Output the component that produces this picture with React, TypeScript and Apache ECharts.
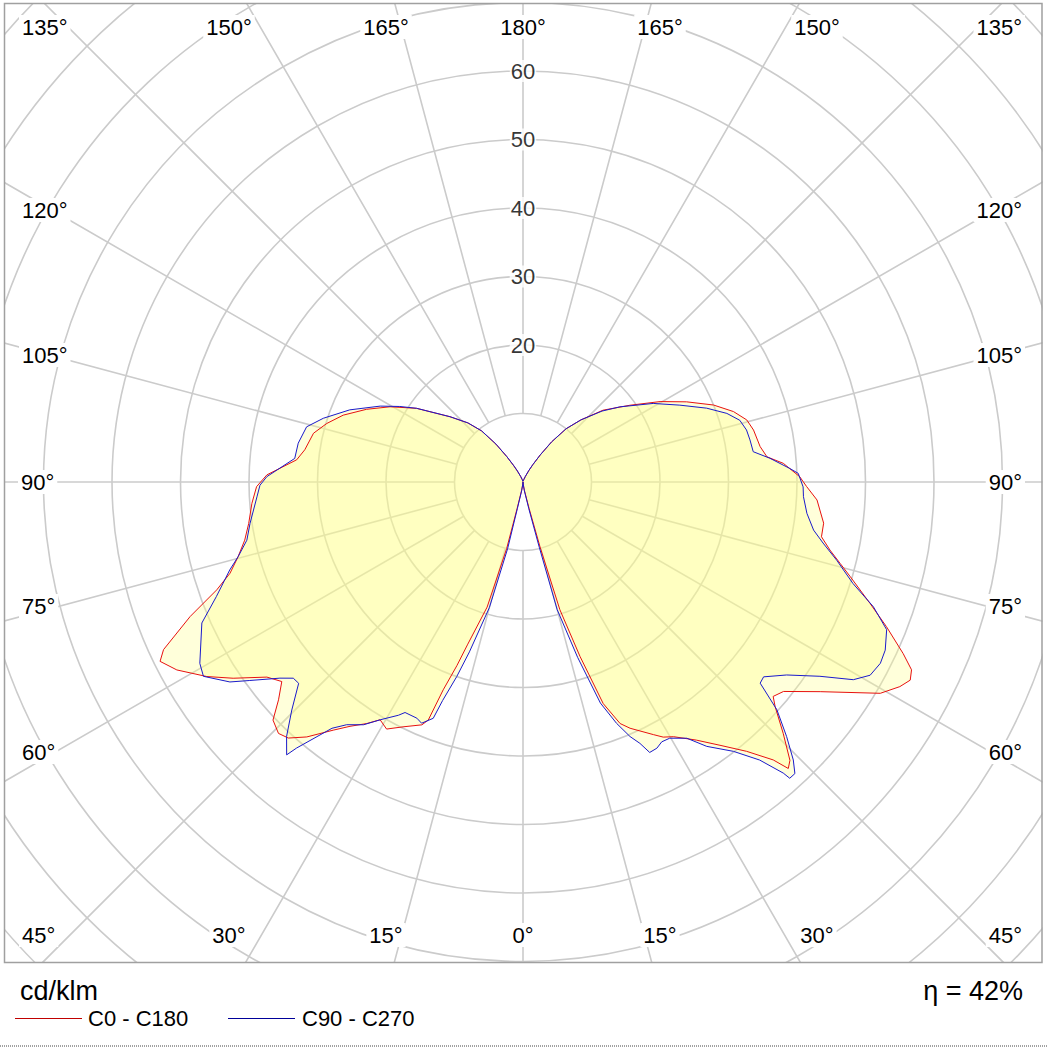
import React, { useEffect, useRef } from "react";
import * as echarts from "echarts";

// ---- data: [gamma (deg), intensity (cd/klm)] ----
const C180_LEFT: [number, number][] = [
  [0, 0], [5, 0.3], [9, 1.2], [12.5, 4.0], [13.8, 10.0], [16.0, 19.0], [18.8, 25.0], [19.8, 28.5],
  [21.0, 32.5], [21.7, 37.4], [22.6, 38.4], [26.1, 39.8], [28.9, 41.2], [31.0, 40.5], [32.9, 42.0],
  [35.3, 43.7], [37.4, 45.6], [40.3, 48.8], [42.5, 50.7], [44.2, 51.2], [46.4, 50.4], [48.3, 47.8],
  [50.4, 45.7], [52.7, 47.0], [55.9, 51.1], [58.4, 54.2], [61.5, 57.5], [63.7, 59.1], [65.0, 57.9],
  [68.0, 52.4], [70.6, 47.4], [72.7, 44.8], [75.3, 43.0], [78.2, 41.5], [81.4, 40.5], [85.5, 39.7],
  [89.0, 38.9], [91.6, 37.4], [95.6, 33.2], [98.4, 32.2], [103.1, 31.4], [106.6, 29.9], [110.4, 28.0],
  [114.9, 25.2], [119.5, 22.3], [124.7, 18.9], [131.8, 14.3], [137.0, 11.8], [141.0, 9.6], [144.5, 6.8],
  [147.5, 4.4], [150.5, 2.7], [153.0, 1.8], [157.0, 0.9], [163.0, 0.35], [170, 0.1], [180, 0],
];
const C0_RIGHT: [number, number][] = [
  [0, 0], [5, 0.3], [9, 1.2], [13.0, 4.0], [14.7, 9.8], [16.1, 19.4], [18.1, 26.8], [19.9, 34.4],
  [21.9, 38.0], [23.5, 39.2], [27.3, 41.5], [28.8, 42.5], [30.6, 43.2], [33.9, 45.4], [36.8, 48.0],
  [39.7, 51.1], [42.0, 54.6], [42.8, 57.0], [43.8, 56.3], [46.0, 52.8], [48.3, 49.3], [49.4, 48.1],
  [51.2, 48.8], [54.8, 53.1], [59.4, 60.6], [61.5, 62.6], [62.9, 63.5], [64.2, 63.0], [65.7, 60.9],
  [68.3, 57.1], [70.7, 53.7], [73.9, 49.7], [75.6, 47.8], [77.5, 45.9], [79.6, 44.3], [82.2, 44.3],
  [86.5, 43.0], [89.1, 41.4], [91.1, 40.4], [94.1, 38.1], [95.9, 35.8], [98.5, 35.0], [102.7, 34.5],
  [105.5, 33.9], [108.5, 32.4], [112.0, 30.0], [116.1, 26.6], [120.4, 23.2], [125.7, 19.2],
  [131.9, 15.7], [137.0, 12.4], [141.0, 10.0], [144.5, 7.2], [147.5, 4.7], [150.5, 2.9], [153.0, 1.9],
  [157.0, 0.9], [163.0, 0.35], [170, 0.1], [180, 0],
];
const C270_LEFT: [number, number][] = [
  [0, 0], [5, 0.3], [9, 1.3], [12.0, 4.0], [13.0, 10.0], [15.0, 19.0], [17.5, 26.0], [18.8, 30.0],
  [20.2, 34.0], [20.8, 36.9], [22.8, 38.2], [24.2, 37.8], [27.1, 37.8], [28.1, 38.6], [31.0, 40.5],
  [33.3, 42.4], [36.0, 43.8], [37.8, 45.5], [40.4, 51.0], [40.9, 52.7], [42.9, 50.7], [45.4, 47.4],
  [48.1, 44.0], [49.5, 44.1], [51.1, 45.6], [54.0, 49.3], [55.7, 51.8], [58.7, 54.6], [60.7, 54.1],
  [66.3, 51.2], [69.5, 47.8], [73.3, 44.7], [75.3, 43.0], [78.1, 41.2], [81.4, 40.3], [86.8, 38.9],
  [89.3, 38.4], [91.2, 37.4], [95.9, 33.5], [99.8, 33.3], [104.3, 32.6], [107.7, 30.6], [112.6, 27.4],
  [118.0, 23.6], [121.5, 21.1], [124.7, 18.9], [131.8, 14.3], [137.0, 11.8], [141.0, 9.6], [144.5, 6.8],
  [147.5, 4.4], [150.5, 2.7], [153.0, 1.8], [157.0, 0.9], [163.0, 0.35], [170, 0.1], [180, 0],
];
const C90_RIGHT: [number, number][] = [
  [0, 0], [5, 0.3], [9, 1.3], [12.3, 4.0], [14.0, 9.8], [15.0, 19.3], [17.3, 26.8], [19.3, 34.2],
  [21.2, 37.8], [22.8, 40.3], [24.1, 41.8], [25.1, 43.6], [26.7, 43.5], [28.1, 43.0], [29.8, 43.1],
  [32.6, 44.4], [34.8, 47.0], [38.0, 49.9], [40.4, 53.3], [41.8, 57.0], [42.0, 58.2], [43.0, 58.2],
  [44.2, 56.6], [46.0, 53.5], [48.1, 49.8], [49.7, 45.4], [51.0, 45.2], [53.8, 47.7], [56.8, 51.8],
  [59.1, 56.2], [60.9, 58.0], [63.1, 58.5], [65.1, 58.3], [67.9, 57.3], [70.4, 54.3], [72.9, 50.4],
  [76.0, 47.2], [78.5, 44.7], [80.6, 43.0], [83.7, 41.7], [87.0, 41.0], [89.0, 40.9], [91.8, 40.2],
  [92.9, 39.0], [95.5, 36.2], [97.5, 33.9], [100.5, 33.7], [103.1, 33.5], [105.9, 32.9], [108.6, 31.4],
  [111.9, 28.9], [116.1, 25.5], [121.1, 22.2], [127.8, 17.9], [131.9, 15.5], [137.0, 12.4],
  [141.0, 10.0], [144.5, 7.2], [147.5, 4.7], [150.5, 2.9], [153.0, 1.9], [157.0, 0.9], [163.0, 0.35],
  [170, 0.1], [180, 0],
];
const RING_LABELS = [20, 30, 40, 50, 60];
const SERIES_NAMES = ["C0 - C180", "C90 - C270"];
const UNIT = "cd/klm";
const EFFICIENCY = "η = 42%";

// ---- layout ----
const CX = 523;
const CY = 482;
const R_MAX = 110;
const PX_PER_UNIT = 6.85;
const FRAME = { x: 4.5, y: 3.5, w: 1037.5, h: 959 };
const FONT = '"Liberation Sans", Arial, Helvetica, sans-serif';

const ANGLE_LABELS: { t: string; x: number; y: number; a: string }[] = [
  { t: "135°", x: 19, y: 27, a: "left" },
  { t: "150°", x: 229, y: 27, a: "center" },
  { t: "165°", x: 386, y: 27, a: "center" },
  { t: "180°", x: 523, y: 27, a: "center" },
  { t: "165°", x: 660, y: 27, a: "center" },
  { t: "150°", x: 817, y: 27, a: "center" },
  { t: "135°", x: 1025, y: 27, a: "right" },
  { t: "120°", x: 19, y: 210, a: "left" },
  { t: "105°", x: 19, y: 355, a: "left" },
  { t: "90°", x: 18, y: 482, a: "left" },
  { t: "75°", x: 19, y: 606, a: "left" },
  { t: "60°", x: 19, y: 752, a: "left" },
  { t: "120°", x: 1025, y: 210, a: "right" },
  { t: "105°", x: 1025, y: 355, a: "right" },
  { t: "90°", x: 1025, y: 482, a: "right" },
  { t: "75°", x: 1025, y: 606, a: "right" },
  { t: "60°", x: 1025, y: 752, a: "right" },
  { t: "45°", x: 19, y: 935, a: "left" },
  { t: "30°", x: 229, y: 935, a: "center" },
  { t: "15°", x: 386, y: 935, a: "center" },
  { t: "0°", x: 523, y: 935, a: "center" },
  { t: "15°", x: 660, y: 935, a: "center" },
  { t: "30°", x: 817, y: 935, a: "center" },
  { t: "45°", x: 1025, y: 935, a: "right" },
];

function loop(left: [number, number][], right: [number, number][]) {
  const a = left.map(([g, v]) => [v, g]);
  const b = [...right].reverse().map(([g, v]) => [v, 360 - g]);
  return a.concat(b);
}

export default function App() {
  const ref = useRef<HTMLDivElement>(null);
  useEffect(() => {
    document.body.style.margin = "0";
    if (!ref.current) return;
    const chart = echarts.init(ref.current, undefined, { renderer: "svg" });
    const outerR = R_MAX * PX_PER_UNIT;
    const innerR = 10 * PX_PER_UNIT;
    const gridColor = "#cbcbcb";
    const gridW = 1.6;
    const loopC0 = loop(C180_LEFT, C0_RIGHT);
    const loopC90 = loop(C270_LEFT, C90_RIGHT);
    const fill = "rgba(255,255,140,0.32)";

    const texts: any[] = ANGLE_LABELS.map((l) => ({
      type: "text",
      z: 110,
      style: {
        text: l.t,
        x: l.x,
        y: l.y,
        font: `22px ${FONT}`,
        fill: "#000",
        align: l.a,
        verticalAlign: "middle",
        backgroundColor: "#fff",
        padding: [1, 3],
      },
    }));

    chart.setOption({
      animation: false,
      backgroundColor: "#fff",
      polar: [
        { center: [CX, CY], radius: [0, outerR] },
        { center: [CX, CY], radius: [innerR, outerR] },
      ],
      angleAxis: [
        {
          polarIndex: 0, type: "value", min: 0, max: 360, interval: 15, startAngle: -90, clockwise: true,
          axisLine: { show: false }, axisTick: { show: false }, axisLabel: { show: false }, splitLine: { show: false },
        },
        {
          polarIndex: 1, type: "value", min: 0, max: 360, interval: 15, startAngle: -90, clockwise: true,
          axisLine: { show: false }, axisTick: { show: false }, axisLabel: { show: false },
          splitLine: { show: true, lineStyle: { color: gridColor, width: gridW } },
        },
      ],
      radiusAxis: [
        {
          polarIndex: 0, type: "value", min: 0, max: R_MAX, interval: 10,
          axisLine: { show: false }, axisTick: { show: false }, axisLabel: { show: false },
          splitLine: { show: true, lineStyle: { color: gridColor, width: gridW } },
        },
        {
          polarIndex: 1, type: "value", min: 0, max: R_MAX, interval: 10,
          axisLine: { show: false }, axisTick: { show: false }, axisLabel: { show: false }, splitLine: { show: false },
        },
      ],
      series: [
        {
          type: "line", coordinateSystem: "polar", polarIndex: 0, data: loopC0, symbol: "none",
          lineStyle: { width: 0, opacity: 0 }, areaStyle: { color: fill, opacity: 1 }, z: 2, silent: true,
        },
        {
          type: "line", coordinateSystem: "polar", polarIndex: 0, data: loopC90, symbol: "none",
          lineStyle: { width: 0, opacity: 0 }, areaStyle: { color: fill, opacity: 1 }, z: 2, silent: true,
        },
        {
          name: SERIES_NAMES[0], type: "line", coordinateSystem: "polar", polarIndex: 0, data: loopC0,
          symbol: "none", lineStyle: { color: "#e8110f", width: 1 }, z: 3, silent: true,
        },
        {
          name: SERIES_NAMES[1], type: "line", coordinateSystem: "polar", polarIndex: 0, data: loopC90,
          symbol: "none", lineStyle: { color: "#1a1acc", width: 1 }, z: 4, silent: true,
        },
        {
          type: "scatter", coordinateSystem: "polar", polarIndex: 0,
          data: RING_LABELS.map((v) => [v, 180]), symbolSize: 1, itemStyle: { color: "rgba(0,0,0,0)" },
          z: 5, silent: true,
          label: {
            show: true, position: "inside", formatter: (p: any) => String(p.value[0]),
            fontSize: 22, fontFamily: FONT, color: "#000", backgroundColor: "#fff", padding: [0, 1],
          },
        },
      ],
      graphic: [
        { type: "rect", z: 100, shape: { x: 0, y: 963, width: 1047, height: 84 }, style: { fill: "#fff" } },
        { type: "rect", z: 100, shape: { x: 0, y: 0, width: 4, height: 963 }, style: { fill: "#fff" } },
        { type: "rect", z: 100, shape: { x: 1042.5, y: 0, width: 5, height: 963 }, style: { fill: "#fff" } },
        { type: "rect", z: 100, shape: { x: 0, y: 0, width: 1047, height: 3 }, style: { fill: "#fff" } },
        {
          type: "rect", z: 101, shape: { x: FRAME.x, y: FRAME.y, width: FRAME.w, height: FRAME.h },
          style: { fill: "none", stroke: "#a0a0a0", lineWidth: 1.5 },
        },
        {
          type: "line", z: 101, shape: { x1: 0, y1: 1046, x2: 1047, y2: 1046 },
          style: { stroke: "#444", lineWidth: 1, lineDash: [1, 1] },
        },
        ...texts,
        {
          type: "text", z: 110,
          style: { text: UNIT, x: 20, y: 991, font: `27px ${FONT}`, fill: "#000", align: "left", verticalAlign: "middle" },
        },
        {
          type: "text", z: 110,
          style: { text: EFFICIENCY, x: 1023, y: 991, font: `27px ${FONT}`, fill: "#000", align: "right", verticalAlign: "middle" },
        },
        {
          type: "line", z: 110, shape: { x1: 15, y1: 1018.5, x2: 82, y2: 1018.5 },
          style: { stroke: "#c00000", lineWidth: 1.2 },
        },
        {
          type: "text", z: 110,
          style: { text: SERIES_NAMES[0], x: 88, y: 1018, font: `22px ${FONT}`, fill: "#000", align: "left", verticalAlign: "middle" },
        },
        {
          type: "line", z: 110, shape: { x1: 228, y1: 1018.5, x2: 295, y2: 1018.5 },
          style: { stroke: "#000099", lineWidth: 1.2 },
        },
        {
          type: "text", z: 110,
          style: { text: SERIES_NAMES[1], x: 302, y: 1018, font: `22px ${FONT}`, fill: "#000", align: "left", verticalAlign: "middle" },
        },
      ],
    });
    return () => chart.dispose();
  }, []);
  return <div ref={ref} style={{ width: 1047, height: 1047 }} />;
}
